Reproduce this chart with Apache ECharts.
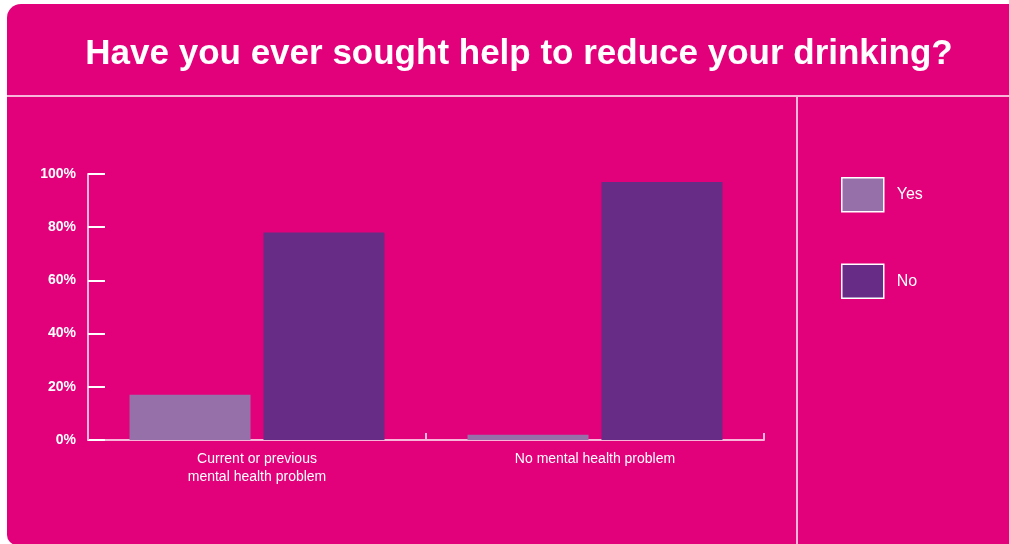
<!DOCTYPE html>
<html>
<head>
<meta charset="utf-8">
<script src="https://cdn.jsdelivr.net/npm/echarts@6/dist/echarts.min.js"></script>
<style>
  html, body { margin: 0; padding: 0; background: #ffffff; }
  #chart { width: 1009px; height: 544px; }
</style>
</head>
<body>
<div id="chart"></div>
<script>
// Survey answers (% of respondents) by mental health status
const categories = ['Current or previous\nmental health problem', 'No mental health problem'];
const yesValues = [17, 2];
const noValues = [78, 97];
const seriesNames = ['Yes', 'No'];
const titleText = 'Have you ever sought help to reduce your drinking?';

const PINK = '#E3007B';
const LINE = '#F7B6DA';
const YES_COLOR = '#9670A8';
const NO_COLOR = '#662C86';

const chart = echarts.init(document.getElementById('chart'));

chart.setOption({
  backgroundColor: '#ffffff',
  animation: false,
  graphic: [
    {
      type: 'rect', z: -10, silent: true,
      shape: { x: 7, y: 4, width: 1020, height: 541, r: [14, 10, 0, 10] },
      style: { fill: PINK }
    },
    {
      type: 'line', z: -5, silent: true,
      shape: { x1: 7, y1: 96, x2: 1009, y2: 96 },
      style: { stroke: LINE, lineWidth: 2 }
    },
    {
      type: 'line', z: -5, silent: true,
      shape: { x1: 797, y1: 96, x2: 797, y2: 544 },
      style: { stroke: LINE, lineWidth: 2 }
    }
  ],
  title: {
    text: titleText,
    left: 514, top: 32, textAlign: 'center',
    textStyle: {
      color: '#ffffff', fontSize: 35, fontWeight: 'bold',
      fontFamily: 'Liberation Sans'
    }
  },
  legend: {
    data: seriesNames,
    orient: 'vertical',
    left: 841, top: 177, padding: 0,
    itemWidth: 42, itemHeight: 34, itemGap: 51,
    icon: 'rect',
    itemStyle: { borderColor: '#ffffff', borderWidth: 1.5 },
    textStyle: { color: '#ffffff', fontSize: 16, fontFamily: 'Liberation Sans', padding: [0, 0, 0, 8] },
    selectedMode: false
  },
  grid: { left: 88, right: 245, top: 174, bottom: 104, containLabel: false },
  xAxis: {
    type: 'category',
    data: categories,
    boundaryGap: true,
    axisLine: { lineStyle: { color: LINE, width: 2 } },
    axisTick: { show: true, interval: 0, inside: true, length: 7, lineStyle: { color: LINE, width: 2 } },
    axisLabel: {
      color: '#ffffff', fontSize: 14, fontFamily: 'Liberation Sans',
      lineHeight: 18, margin: 10, interval: 0
    }
  },
  yAxis: {
    type: 'value',
    min: 0, max: 100, interval: 20,
    axisLine: { show: true, lineStyle: { color: LINE, width: 2 } },
    axisTick: { show: true, inside: true, length: 17, lineStyle: { color: '#ffffff', width: 2 } },
    splitLine: { show: false },
    axisLabel: {
      color: '#ffffff', fontSize: 14, fontWeight: 'bold',
      fontFamily: 'Liberation Sans', margin: 12,
      formatter: '{value}%'
    }
  },
  series: [
    {
      name: seriesNames[0], type: 'bar', data: yesValues,
      barWidth: 121, barGap: '10.7%',
      itemStyle: { color: YES_COLOR }
    },
    {
      name: seriesNames[1], type: 'bar', data: noValues,
      barWidth: 121,
      itemStyle: { color: NO_COLOR }
    }
  ]
});
</script>
</body>
</html>
